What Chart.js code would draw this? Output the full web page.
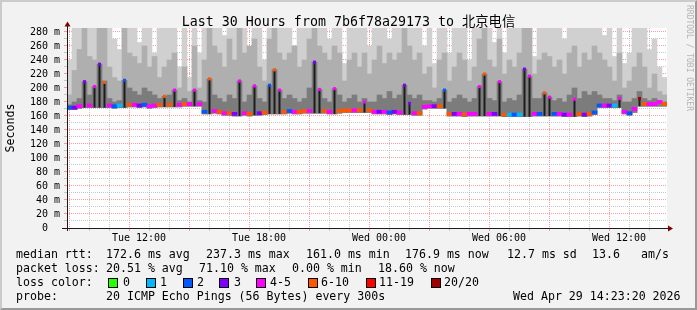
<!DOCTYPE html>
<html>
<head>
<meta charset="utf-8">
<script src="https://cdn.jsdelivr.net/npm/chart.js@4.4.1/dist/chart.umd.min.js"></script>
<style>
html,body{margin:0;padding:0;}
body{width:697px;height:310px;overflow:hidden;background:#f2f2f2;}
#wrap{position:relative;width:697px;height:310px;background:#f2f2f2;overflow:hidden;}
#frame{position:absolute;left:0;top:0;width:697px;height:310px;box-sizing:border-box;border-style:solid;border-width:2px;border-color:#cbcbcb #999 #999 #cbcbcb;pointer-events:none;}
#c{position:absolute;left:0;top:0;}
.t{position:absolute;font-family:"DejaVu Sans Mono",monospace;font-size:11.6px;line-height:14px;color:#000;white-space:pre;}
.title{position:absolute;left:0;top:14px;width:697px;text-align:center;font-family:"DejaVu Sans Mono","Noto Sans CJK SC",monospace;font-size:13.3px;line-height:16px;color:#000;white-space:pre;}
.box{position:absolute;width:8px;height:8px;border:1px solid #000;top:278px;}
.ylab{position:absolute;left:-20px;top:121px;width:60px;text-align:center;transform:rotate(-90deg);}
.credit{position:absolute;left:634px;top:53px;width:110px;height:10px;text-align:center;font-family:"DejaVu Sans Mono",monospace;font-size:8px;line-height:10px;color:#b4b4b4;transform:rotate(90deg);white-space:pre;}
</style>
</head>
<body>
<div id="wrap">
  <canvas id="c" width="697" height="310"></canvas>
  <div id="texts"></div>
  <div id="frame"></div>
</div>
<script>
// ---------------- data ----------------
const titleText = 'Last 30 Hours from 7b6f78a29173 to 北京电信';
const yAxisTitle = 'Seconds';
const creditText = 'RRDTOOL / TOBI OETIKER';
const lossLabels = ['0', '1', '2', '3', '4-5', '6-10', '11-19', '20/20'];
const lossColors = ['#26ff00', '#00b8ff', '#0059ff', '#7e00ff', '#ff00ff', '#ff5500', '#ff0000', '#a10000'];
const tickLabels = ['Tue 12:00', 'Tue 18:00', 'Wed 00:00', 'Wed 06:00', 'Wed 12:00'];
const tickMinutes = [216, 576, 936, 1296, 1656];   // minutes after 08:24 Tue
const yTickValues = [0, 20, 40, 60, 80, 100, 120, 140, 160, 180, 200, 220, 240, 260, 280];
const slotMinutes = 15;

// median RTT (ms), one value per 15-minute slot
const medianRtt = [
  172,172,174,209,175,202,234,208,175,174, 175,211,176,176,175,176,174,175,176,188,
  176,197,176,177,177,197,177,166,213,167, 166,164,164,163,210,164,163,203,164,165,
  204,226,197,166,167,166,166,167,167,237, 198,167,166,199,167,168,168,168,168,180,
  168,166,166,166,165,166,165,204,178,164, 164,173,174,174,174,197,163,163,163,162,
  163,163,202,220,163,163,209,162,162,162, 162,227,217,163,163,193,187,163,163,162,
  162,184,163,162,163,165,175,175,175,175, 185,166,164,170,185,177,177,177,180,177
];
// loss bucket index into lossLabels
const lossBucket = [
  2,3,4,3,4,4,3,5,4,2, 1,2,5,4,3,2,4,4,5,5,
  5,4,4,5,4,4,4,2,5,4, 5,4,5,3,4,4,5,4,3,5,
  2,5,4,5,2,4,5,5,4,3, 4,5,4,4,5,5,5,4,5,4,
  5,4,3,4,2,3,4,3,3,4, 5,4,4,3,5,2,5,3,4,5,
  4,4,4,5,4,3,4,5,1,2, 1,3,4,4,2,5,4,2,4,3,
  4,4,5,3,5,2,2,4,3,1, 4,4,2,4,7,5,4,4,4,5
];
// smoke: minimum ping (ms)
const minRtt = [
  169,169,171,172,172,172,172,172,172,171, 172,172,173,173,172,173,171,172,173,173,
  173,173,173,174,174,174,174,163,163,164, 163,161,161,160,160,161,160,161,161,162,
  163,163,163,163,164,163,163,164,164,164, 164,164,163,163,164,165,165,165,165,165,
  165,163,163,163,162,163,162,162,162,161, 161,170,171,171,171,171,160,160,160,159,
  160,160,160,160,160,160,160,159,159,159, 159,159,159,160,160,160,160,160,160,159,
  159,159,160,159,160,162,172,172,172,172, 172,163,161,165,174,174,174,174,174,174
];
// smoke: inner (dark) band top
const smokeDark = [
  176,180,185,209,190,202,234,210,185,180, 182,211,200,195,190,200,195,190,185,188,
  190,197,182,185,180,197,182,180,213,190, 185,180,190,185,210,180,190,203,185,180,
  204,226,197,185,190,185,180,185,200,237, 198,185,180,199,190,180,185,190,180,185,
  180,180,190,185,195,185,190,204,190,185, 190,182,182,180,185,197,180,185,190,185,
  180,185,202,220,185,182,209,180,185,182, 190,227,217,185,185,193,187,182,185,180,
  190,200,185,195,190,195,190,185,185,182, 190,180,180,185,195,185,182,185,182,180
];
// smoke: middle band top
const smokeMid = [
  190,225,255,290,245,240,290,290,230,215, 210,290,250,245,235,260,230,245,215,230,
  240,250,200,230,195,260,200,240,290,260, 250,230,270,240,290,250,260,270,230,210,
  270,290,250,240,250,260,230,240,270,290, 260,250,240,260,250,210,240,250,230,250,
  220,240,260,235,250,240,250,290,260,240, 250,220,230,200,240,250,210,230,250,240,
  210,230,270,290,240,230,270,220,240,230, 250,290,290,220,240,250,245,230,240,220,
  250,260,230,250,240,260,250,240,230,210, 250,200,210,230,250,230,200,220,195,190
];
// smoke: outer (light) band top, values above 286 are off the chart
const smokeHigh = [
  240,290,290,290,290,290,290,290,290,270, 255,290,290,290,265,290,290,250,290,290,
  290,290,230,290,215,290,250,290,290,290, 290,275,290,290,290,290,255,290,290,240,
  290,290,290,290,290,260,290,290,290,290, 290,290,270,290,290,235,290,290,290,290,
  260,290,290,290,270,290,290,290,290,290, 290,260,290,235,290,290,250,290,290,290,
  240,290,290,290,290,265,290,250,290,290, 290,290,290,245,290,290,290,290,290,270,
  290,290,290,290,290,290,290,275,290,245, 290,235,250,290,290,290,255,270,230,215
];
const statsRtt = ['median rtt:', '172.6 ms avg', '237.3 ms max', '161.0 ms min', '176.9 ms now', '12.7 ms sd', '13.6', 'am/s'];
const statsLoss = ['packet loss:', '20.51 % avg', '71.10 % max', '0.00 % min', '18.60 % now'];
const probeText = ['probe:', '20 ICMP Echo Pings (56 Bytes) every 300s', 'Wed Apr 29 14:23:20 2026'];

// ---------------- layout (positions only) ----------------
const rttX = [16, 106, 206, 306, 405, 507, 592, 641];
const lossX = [16, 106, 199, 292, 378];
const boxX = [108, 146, 183, 219, 256, 308, 366, 431];
const boxLabelX = [123, 160, 197, 234, 270, 321, 379, 444];
const probeX = [16, 106, 513];

const texts = document.getElementById('texts');
function addText(cls, x, y, s) {
  const d = document.createElement('div');
  d.className = cls;
  if (x !== null) d.style.left = x + 'px';
  if (y !== null) d.style.top = y + 'px';
  d.textContent = s;
  texts.appendChild(d);
  return d;
}
addText('title', null, null, titleText);
addText('t ylab', null, null, yAxisTitle);
addText('credit', null, null, creditText);
statsRtt.forEach((s, i) => addText('t', rttX[i], 247, s));
statsLoss.forEach((s, i) => addText('t', lossX[i], 261, s));
addText('t', 16, 275, 'loss color:');
lossLabels.forEach((s, i) => {
  const b = document.createElement('div');
  b.className = 'box';
  b.style.left = boxX[i] + 'px';
  b.style.background = lossColors[i];
  texts.appendChild(b);
  addText('t', boxLabelX[i], 275, s);
});
probeText.forEach((s, i) => addText('t', probeX[i], 289, s));

// ---------------- chart ----------------
const xs = medianRtt.map((_, i) => slotMinutes / 2 + i * slotMinutes);
const isSpike = medianRtt.map((m, i) => m - minRtt[i] > 8);
function band(lo, hi) { return xs.map((x, i) => ({ x: x, y: [lo[i], hi[i]] })); }
const mark = (i) => [medianRtt[i] - 2.2, medianRtt[i] + 2.2];
const baseMarks = xs.map((x, i) => ({ x: x, y: isSpike[i] ? null : mark(i) }));
const spikeMarks = xs.map((x, i) => ({ x: x, y: isSpike[i] ? mark(i) : null }));
const coreCols = xs.map((x, i) => ({ x: x, y: isSpike[i] ? [minRtt[i], medianRtt[i]] : null }));
const markColors = lossBucket.map(b => lossColors[b]);
const hourTicks = [];
for (let m = 36; m < 1800; m += 60) hourTicks.push(m);

const MAJOR = 'rgba(255,120,120,0.75)';
const MINOR = 'rgba(185,185,185,0.8)';
const tv = c => (c && c.tick ? c.tick.value : null);
const xGridColor = c => { const v = tv(c); return v === null ? 'rgba(0,0,0,0)' : ((v - 36) % 180 === 0 ? MAJOR : MINOR); };
const yGridColor = c => { const v = tv(c); return (v === null || v === 0) ? 'rgba(0,0,0,0)' : (v % 20 === 0 ? MAJOR : MINOR); };
const yTickColor = c => { const v = tv(c); return v === null ? 'rgba(0,0,0,0)' : (v % 20 === 0 ? MAJOR : MINOR); };

const framePlugin = {
  id: 'framePlugin',
  beforeDraw(chart) {
    const a = chart.chartArea, ctx = chart.ctx;
    ctx.save();
    ctx.fillStyle = '#ffffff';
    ctx.fillRect(a.left, a.top, a.right - a.left, a.bottom - a.top);
    ctx.restore();
  },
  afterDraw(chart) {
    const a = chart.chartArea, ctx = chart.ctx;
    ctx.save();
    ctx.strokeStyle = '#1a1a1a';
    ctx.lineWidth = 1;
    ctx.beginPath();
    ctx.moveTo(a.left - 5, a.bottom + 0.5);
    ctx.lineTo(a.right + 3, a.bottom + 0.5);
    ctx.moveTo(a.left + 0.5, a.bottom + 3);
    ctx.lineTo(a.left + 0.5, a.top - 4);
    ctx.stroke();
    ctx.fillStyle = '#7f0000';
    ctx.beginPath();
    ctx.moveTo(a.left + 0.5, a.top - 6.5);
    ctx.lineTo(a.left - 2.5, a.top - 1.5);
    ctx.lineTo(a.left + 3.5, a.top - 1.5);
    ctx.closePath();
    ctx.fill();
    ctx.beginPath();
    ctx.moveTo(a.right + 6, a.bottom + 0.5);
    ctx.lineTo(a.right + 1, a.bottom - 2.5);
    ctx.lineTo(a.right + 1, a.bottom + 3.5);
    ctx.closePath();
    ctx.fill();
    ctx.restore();
  }
};

new Chart(document.getElementById('c'), {
  type: 'bar',
  data: {
    datasets: [
      { label: 'median', data: baseMarks, backgroundColor: markColors },
      { label: 'median spike', data: spikeMarks, backgroundColor: markColors, barPercentage: 0.6 },
      { label: 'core', data: coreCols, backgroundColor: '#1c1c1c', barPercentage: 0.4 },
      { label: 'dark', data: band(minRtt, smokeDark), backgroundColor: '#7c7c7c' },
      { label: 'mid', data: band(minRtt, smokeMid), backgroundColor: '#afafaf' },
      { label: 'light', data: band(minRtt, smokeHigh), backgroundColor: '#d0d0d0' }
    ]
  },
  options: {
    responsive: false,
    animation: false,
    events: [],
    layout: { padding: { left: 0, right: 30, top: 28, bottom: 62 } },
    datasets: { bar: { grouped: false, barPercentage: 1, categoryPercentage: 1, borderWidth: 0 } },
    plugins: { legend: { display: false }, tooltip: { enabled: false }, title: { display: false } },
    scales: {
      x: {
        type: 'linear', min: 0, max: 1800, offset: false, z: 1,
        afterFit: s => { s.height = 20; },
        afterBuildTicks: s => { s.ticks = hourTicks.map(v => ({ value: v })); },
        ticks: {
          autoSkip: false, maxRotation: 0, padding: 1, color: '#000',
          font: { family: 'DejaVu Sans Mono', size: 10 },
          callback: v => { const k = tickMinutes.indexOf(v); return k >= 0 ? tickLabels[k] : ''; }
        },
        grid: { lineWidth: 1, drawTicks: true, tickLength: 3, color: xGridColor, tickColor: xGridColor },
        border: { display: false, dash: [1, 1] }
      },
      y: {
        min: 0, max: 285.7, z: 1,
        afterFit: s => { s.width = 67; },
        afterBuildTicks: s => {
          const t = [];
          for (let v = 0; v <= 280; v += 10) t.push({ value: v });
          s.ticks = t;
        },
        ticks: {
          autoSkip: false, padding: 4, color: '#000',
          font: { family: 'DejaVu Sans Mono', size: 10 },
          callback: v => (yTickValues.indexOf(v) >= 0 ? (v === 0 ? '0  ' : v + ' m') : '')
        },
        grid: { lineWidth: 1, drawTicks: true, tickLength: 3, color: yGridColor, tickColor: yTickColor },
        border: { display: false, dash: [1, 1] }
      }
    }
  },
  plugins: [framePlugin]
});
</script>
</body>
</html>
